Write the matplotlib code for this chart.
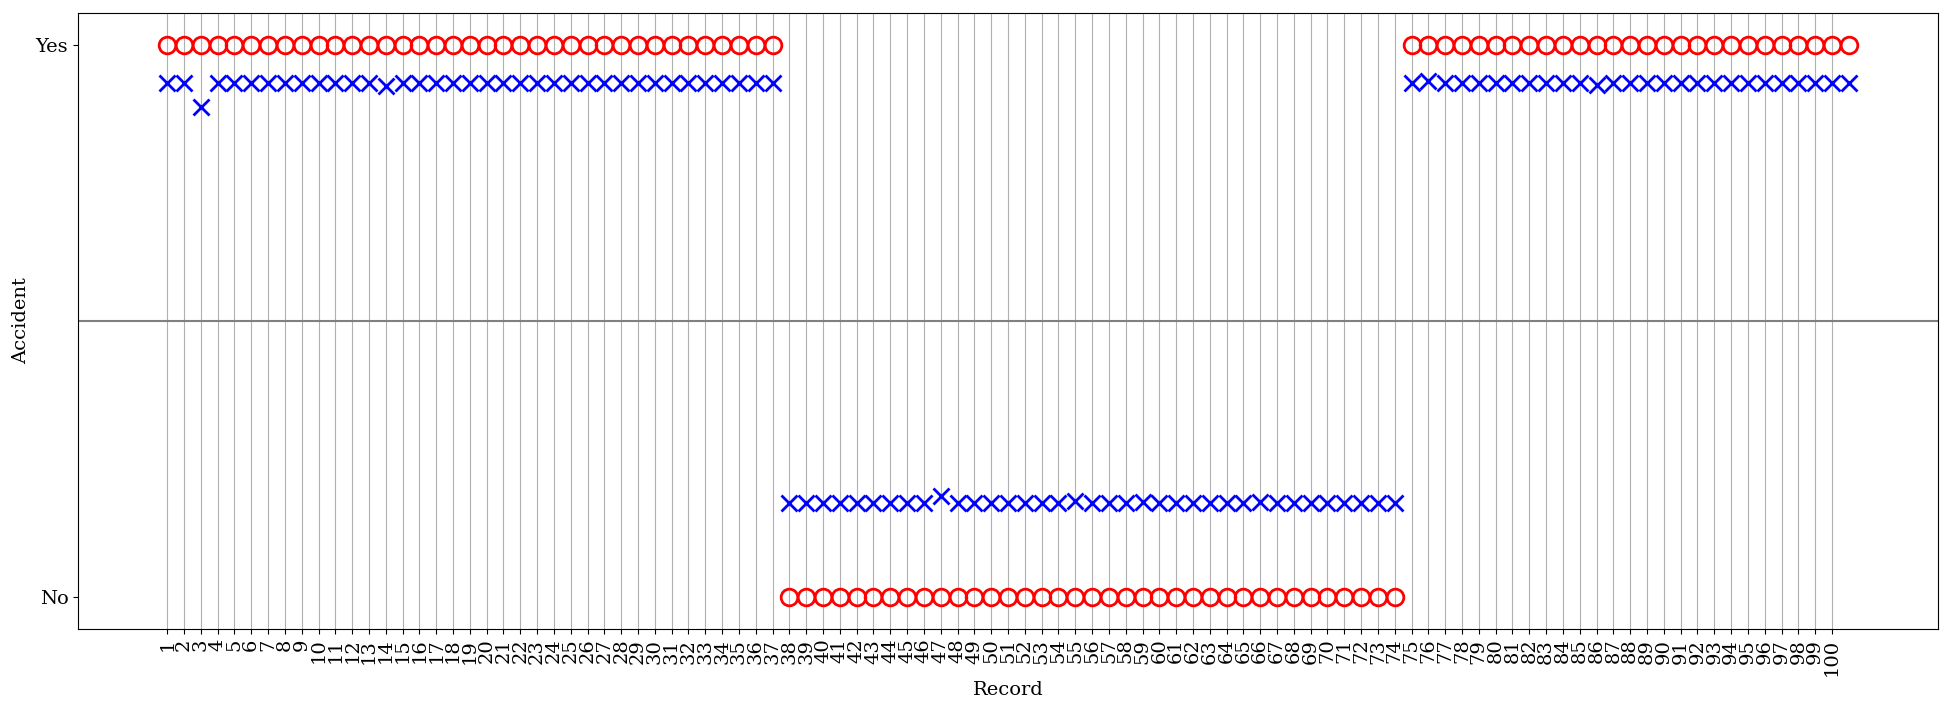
import matplotlib
matplotlib.use("Agg")
import matplotlib.pyplot as plt

# actual outcome per record (1 = Yes, 0 = No)
actual = [1] * 37 + [0] * 37 + [1] * 27

# predicted probability per record
pred_yes1 = [0.931] * 37
pred_yes1[2] = 0.888
pred_yes1[13] = 0.926

pred_no = [0.170] * 37
pred_no[9] = 0.183   # record 47
pred_no[17] = 0.174  # record 55
pred_no[21] = 0.172  # record 59
pred_no[28] = 0.173  # record 66

pred_yes2 = [0.931] * 27
pred_yes2[1] = 0.935
pred_yes2[11] = 0.927

predicted = pred_yes1 + pred_no + pred_yes2
records = list(range(1, len(actual) + 1))
tick_labels = [str(i) for i in range(1, 101)]

plt.rcParams['font.family'] = 'DejaVu Serif'
plt.rcParams['font.size'] = 14

fig = plt.figure(figsize=(19.51, 7.09), dpi=100)
ax = fig.add_axes([0.040, 0.1128, 0.9533, 0.8689])

ax.plot(records, actual, linestyle='none', marker='o', markersize=12,
        markerfacecolor='none', markeredgecolor='red', markeredgewidth=2)
ax.plot(records, predicted, linestyle='none', marker='x', markersize=11,
        color='blue', markeredgewidth=2)

ax.axhline(0.5, color='gray', linewidth=1.5)

ax.set_xticks(range(1, 101))
ax.set_xticklabels(tick_labels, rotation=90)
ax.grid(axis='x', color='#b0b0b0', linewidth=0.8)
ax.set_axisbelow(True)

ax.set_yticks([0, 1])
ax.set_yticklabels(['No', 'Yes'])
ax.set_xlim(-4.3, 106.3)
ax.set_ylim(-0.058, 1.058)

ax.set_xlabel('Record')
ax.set_ylabel('Accident')

fig.savefig('out.png', dpi=100)
